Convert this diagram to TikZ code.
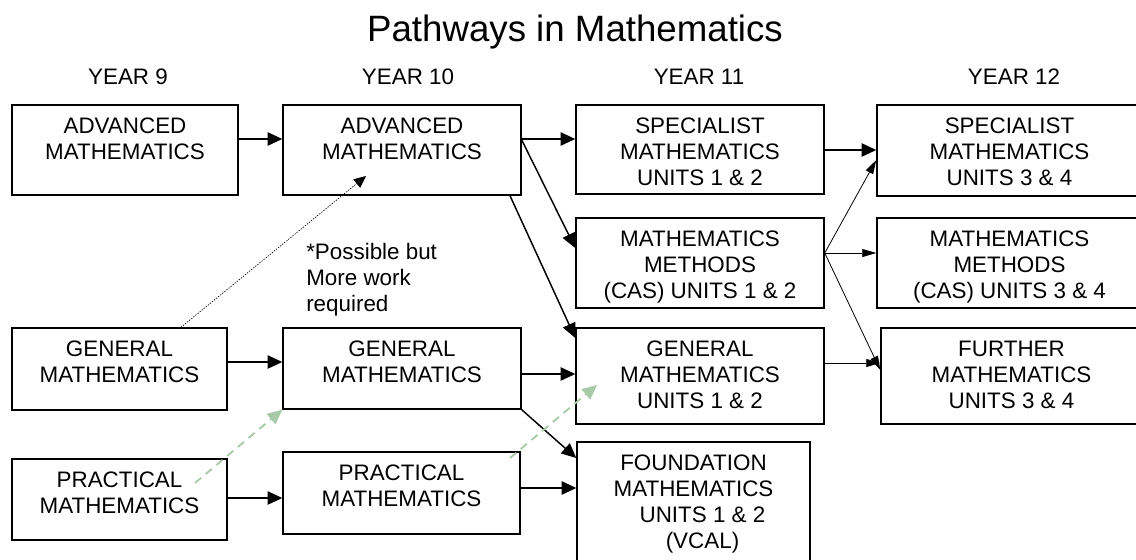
\documentclass[tikz,border=0pt]{standalone}
\usepackage{fontspec}
\setmainfont{Liberation Sans}
\usetikzlibrary{arrows.meta,positioning,fit}
\definecolor{sage}{RGB}{168,202,168}
\tikzset{mathbox/.style={draw,rectangle,inner sep=0,line width=1.1pt},
    boxtext/.style={align=center,inner sep=0,font=\fontsize{16.8}{19.6}\selectfont},
    yearlabel/.style={anchor=base,inner sep=0,font=\fontsize{16.8}{19.6}\selectfont},
    route/.style={-{Triangle[length=11pt,width=10pt]},line width=1.1pt},
    thinroute/.style={-{Triangle[length=10.5pt,width=6pt]},line width=0.6pt},
    maybe/.style={-{Triangle[length=9pt,width=8pt]},line width=0.5pt,dash pattern=on 1pt off 1pt},
    easier/.style={-{Triangle[length=11pt,width=10pt]},draw=sage,line width=1.4pt,dash pattern=on 6pt off 4.5pt}
}

\begin{document}
\begin{tikzpicture}[x=0.75pt,y=-0.75pt]
\useasboundingbox (0,0) rectangle (1136,560);

\node (title) [anchor=base,inner sep=0,font=\fontsize{27.5}{33}\selectfont] at (575,42) {Pathways in Mathematics};

\node (year 9) [yearlabel] at (128,85) {YEAR 9};
\node (year 10) [yearlabel] at (408,85) {YEAR 10};
\node (year 11) [yearlabel] at (699,85) {YEAR 11};
\node (year 12) [yearlabel] at (1014,85) {YEAR 12};

\node (adv 9) [mathbox,fit={(12,105) (238,195)}] {};
\node (adv 10) [mathbox,fit={(283,105) (521,195)}] {};
\node (spec 11) [mathbox,fit={(576,105) (824,194)}] {};
\node (spec 12) [mathbox,fit={(877,105) (1142,196)}] {};
\node (meth 11) [mathbox,fit={(576,218) (824,308)}] {};
\node (meth 12) [mathbox,fit={(877,218) (1142,308)}] {};
\node (gen 9) [mathbox,fit={(12,328) (227,410)}] {};
\node (gen 10) [mathbox,fit={(283,328) (521,409)}] {};
\node (gen 11) [mathbox,fit={(576,328) (824,424)}] {};
\node (fur 12) [mathbox,fit={(881,328) (1142,424)}] {};
\node (prac 9) [mathbox,fit={(12,459) (227,540)}] {};
\node (prac 10) [mathbox,fit={(283,452) (520,534)}] {};
\node (found 11) [mathbox,fit={(577,442) (810,566)}] {};

\node (adv 9 t) [boxtext,below=10pt of adv 9.north] {ADVANCED\\MATHEMATICS};
\node (adv 10 t) [boxtext,below=10pt of adv 10.north] {ADVANCED\\MATHEMATICS};
\node (spec 11 t) [boxtext,below=10pt of spec 11.north] {SPECIALIST\\MATHEMATICS\\UNITS 1 \& 2};
\node (spec 12 t) [boxtext,below=10pt of spec 12.north] {SPECIALIST\\MATHEMATICS\\UNITS 3 \& 4};
\node (meth 11 t) [boxtext,below=10pt of meth 11.north] {MATHEMATICS\\METHODS\\(CAS) UNITS 1 \& 2};
\node (meth 12 t) [boxtext,below=10pt of meth 12.north] {MATHEMATICS\\METHODS\\(CAS) UNITS 3 \& 4};
\node (gen 9 t) [boxtext,below=10pt of gen 9.north] {GENERAL\\MATHEMATICS};
\node (gen 10 t) [boxtext,below=10pt of gen 10.north] {GENERAL\\MATHEMATICS};
\node (gen 11 t) [boxtext,below=10pt of gen 11.north] {GENERAL\\MATHEMATICS\\UNITS 1 \& 2};
\node (fur 12 t) [boxtext,below=10pt of fur 12.north] {FURTHER\\MATHEMATICS\\UNITS 3 \& 4};
\node (prac 9 t) [boxtext,below=10pt of prac 9.north] {PRACTICAL\\MATHEMATICS};
\node (prac 10 t) [boxtext,below=10pt of prac 10.north] {PRACTICAL\\MATHEMATICS};
\node (found 11 t) [boxtext,below=10pt of found 11.north] {FOUNDATION\\MATHEMATICS\\\hspace*{13.5pt}UNITS 1 \& 2\\\hspace*{13.5pt}(VCAL)};

\node (note) [anchor=north west,align=left,inner sep=0,font=\fontsize{16.8}{19.6}\selectfont] at (306,243) {*Possible but\\More work\\required};

\coordinate (maybe tip) at (366,176);
\coordinate (prac 9 in) at (195,483);
\coordinate (prac 10 in) at (510,458);
\coordinate (gen 11 in) at (597,385);

\draw [route] (adv 9.east |- 0,139) -- (adv 10.west |- 0,139);
\draw [route] (adv 10.east |- 0,139) -- (spec 11.west |- 0,139);
\draw [route] (adv 10.east |- 0,140) -- (meth 11.west |- 0,248);
\draw [route] (510,0 |- adv 10.south) -- (gen 11.west |- 0,338);
\draw [route] (spec 11.east |- 0,150) -- (spec 12.west |- 0,150);
\draw [thinroute] (meth 11.east |- 0,253) -- (spec 12.west |- 0,160);
\draw [thinroute] (meth 11.east |- 0,253) -- (meth 12.west |- 0,253);
\draw [thinroute] (meth 11.east |- 0,253) -- (fur 12.west |- 0,370);
\draw [thinroute] (gen 11.east |- 0,363) -- (fur 12.west |- 0,363);
\draw [route] (gen 9.east |- 0,362) -- (gen 10.west |- 0,362);
\draw [route] (gen 10.east |- 0,374) -- (gen 11.west |- 0,374);
\draw [route] (gen 10.south east) -- (found 11.west |- 0,458);
\draw [route] (prac 9.east |- 0,498) -- (prac 10.west |- 0,498);
\draw [route] (prac 10.east |- 0,488) -- (found 11.west |- 0,488);

\draw [maybe] (181,0 |- gen 9.north) -- (maybe tip);
\draw [easier] (prac 9 in) -- (gen 10.south west);
\draw [easier] (prac 10 in) -- (gen 11 in);

\end{tikzpicture}
\end{document}
